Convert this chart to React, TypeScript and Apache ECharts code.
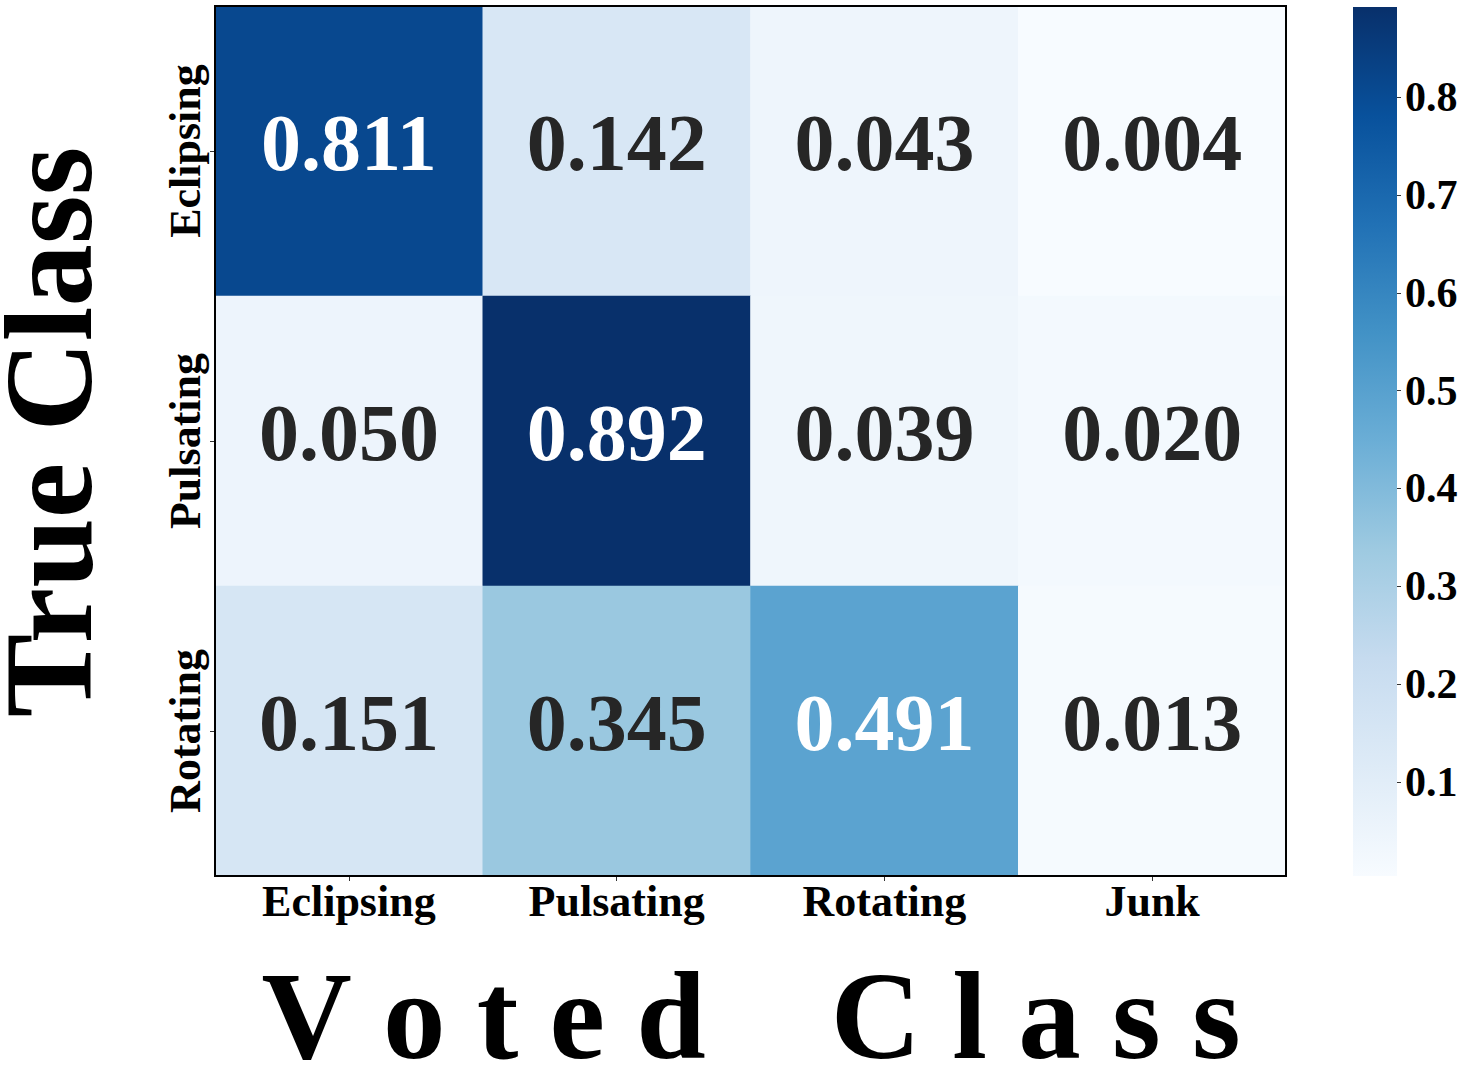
import React, { useEffect, useRef } from "react";
import * as echarts from "echarts";

const votedClasses = ["Eclipsing", "Pulsating", "Rotating", "Junk"];
const trueClasses = ["Eclipsing", "Pulsating", "Rotating"];
const eclipsingRow = [0.811, 0.142, 0.043, 0.004];
const pulsatingRow = [0.05, 0.892, 0.039, 0.02];
const rotatingRow = [0.151, 0.345, 0.491, 0.013];
const colorbarTicks = [0.1, 0.2, 0.3, 0.4, 0.5, 0.6, 0.7, 0.8];
const bluesStops = ["#f7fbff", "#deebf7", "#c6dbef", "#9ecae1", "#6baed6", "#4292c6", "#2171b5", "#08519c", "#08306b"];

const FONT = "'Liberation Serif', 'Times New Roman', serif";

export default function App() {
  const ref = useRef<HTMLDivElement>(null);
  useEffect(() => {
    if (!ref.current) return;
    const chart = echarts.init(ref.current, null, { renderer: "svg" });
    const rows = [eclipsingRow, pulsatingRow, rotatingRow];
    const all = rows.flat();
    const vmin = Math.min(...all);
    const vmax = Math.max(...all);
    const data: any[] = [];
    rows.forEach((row, r) =>
      row.forEach((v, c) => {
        data.push({
          value: [c, r, v],
          label: { color: v > 0.45 ? "#ffffff" : "#262626" },
        });
      })
    );
    const gradStops = bluesStops.map((c, i) => ({ offset: i / (bluesStops.length - 1), color: c }));
    chart.setOption({
      animation: false,
      backgroundColor: "#ffffff",
      textStyle: { fontFamily: FONT },
      grid: [
        { left: 215, top: 6, width: 1071, height: 870, show: true, borderColor: "#000", borderWidth: 2, backgroundColor: "transparent", z: 5 },
        { left: 1353, top: 7, width: 44, height: 869 },
      ],
      xAxis: [
        {
          type: "category",
          data: votedClasses,
          gridIndex: 0,
          axisLine: { show: false },
          axisTick: { show: true, alignWithLabel: true, length: 5, lineStyle: { color: "#333" } },
          splitLine: { show: false },
          axisLabel: { fontFamily: FONT, fontWeight: "bold", fontSize: 44, color: "#000", margin: 3 },
        },
        { type: "category", gridIndex: 1, data: ["c"], show: false },
      ],
      yAxis: [
        {
          type: "category",
          data: trueClasses,
          inverse: true,
          gridIndex: 0,
          axisLine: { show: false },
          axisTick: { show: true, alignWithLabel: true, length: 5, lineStyle: { color: "#333" } },
          splitLine: { show: false },
          axisLabel: { fontFamily: FONT, fontWeight: "bold", fontSize: 44, color: "#000", rotate: 90, margin: 8 },
        },
        {
          type: "value",
          gridIndex: 1,
          min: vmin,
          max: vmax,
          position: "right",
          axisLine: { show: false },
          splitLine: { show: false },
          axisTick: { show: true, length: 4, lineStyle: { color: "#333" }, customValues: colorbarTicks },
          axisLabel: {
            fontFamily: FONT,
            fontWeight: "bold",
            fontSize: 42,
            color: "#000",
            margin: 8,
            customValues: colorbarTicks,
            formatter: (v: number) => v.toFixed(1),
          },
        },
      ],
      visualMap: {
        show: false,
        type: "continuous",
        min: vmin,
        max: vmax,
        seriesIndex: 0,
        dimension: 2,
        inRange: { color: bluesStops },
      },
      series: [
        {
          type: "heatmap",
          xAxisIndex: 0,
          yAxisIndex: 0,
          data,
          label: {
            show: true,
            fontFamily: FONT,
            fontWeight: "bold",
            fontSize: 80,
            offset: [0, -8],
            formatter: (p: any) => p.value[2].toFixed(3),
          },
          itemStyle: { borderWidth: 0 },
        },
        {
          type: "custom",
          xAxisIndex: 1,
          yAxisIndex: 1,
          data: [[0, vmin, vmax]],
          renderItem: (params: any, api: any) => {
            const bottom = api.coord([0, api.value(1)]);
            const top = api.coord([0, api.value(2)]);
            const w = api.size([1, 0])[0];
            return {
              type: "rect",
              shape: { x: bottom[0] - w / 2, y: top[1], width: w, height: bottom[1] - top[1] },
              style: { fill: new echarts.graphic.LinearGradient(0, 1, 0, 0, gradStops) },
            };
          },
        },
      ],
      graphic: [
        {
          type: "text",
          x: 49,
          y: 432,
          rotation: Math.PI / 2,
          style: {
            text: "True Class",
            fontFamily: FONT,
            fontWeight: "bold",
            fontSize: 125,
            lineHeight: 94,
            fill: "#000",
            textAlign: "center",
            textVerticalAlign: "middle",
          },
        },
        {
          type: "text",
          x: 751,
          y: 1016,
          style: {
            text: "V\u00a0o\u00a0t\u00a0e\u00a0d\u00a0\u00a0\u00a0\u00a0C\u00a0l\u00a0a\u00a0s\u00a0s",
            fontFamily: FONT,
            fontWeight: "bold",
            fontSize: 125,
            fill: "#000",
            textAlign: "center",
            textVerticalAlign: "middle",
          },
        },
      ],
    });
    return () => chart.dispose();
  }, []);
  return <div ref={ref} style={{ position: "fixed", left: 0, top: 0, width: 1467, height: 1091 }} />;
}
